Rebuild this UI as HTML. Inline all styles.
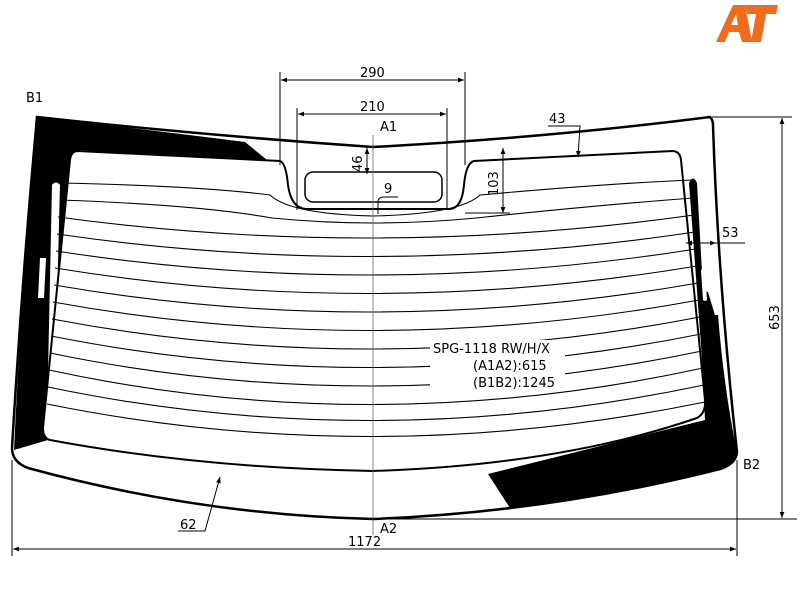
<!DOCTYPE html>
<html><head><meta charset="utf-8"><style>
html,body{margin:0;padding:0;background:#fff;}
svg{display:block;font-family:"DejaVu Sans","Liberation Sans",sans-serif;}
</style></head><body>
<svg width="800" height="600" viewBox="0 0 800 600" xmlns="http://www.w3.org/2000/svg">
<defs>
<marker id="ar" viewBox="0 0 10 10" refX="10" refY="5" markerWidth="8" markerHeight="6" orient="auto-start-reverse"><path d="M0,1 L10,5 L0,9 z" fill="#000"/></marker>
</defs>
<rect width="800" height="600" fill="#fff"/>
<path d="M37,117 Q200,135 373,147 Q545,138 710,117 Q713,120 713,125 Q718,280 737,452 Q736,464 720,469 Q550,512 373,519 Q200,515 28,468 Q12,462 12,448 Q22,280 37,117 Z" fill="#fff" stroke="#000" stroke-width="2.5"/>
<path d="M37,117 Q150,130 245,142 L272,164 L80,150 L48,440 L14,450 Q22,280 37,117 Z" fill="#000"/>
<path d="M718,315 Q724,390 737,452 Q736,464 720,469 Q620,496 510,508 L488,474 L705,420 L700,315 Z" fill="#000"/>
<path d="M52,185 Q56,180 60,185 L54,420 Q50,424 47,420 Z" fill="#fff"/>
<path d="M40,258 L46,258 L44,298 L38,298 Z" fill="#fff"/>
<path d="M78,151 L280,161 Q286,163 288,185 Q291,208 306,209 L450,209 Q462,208 464,185 Q466,163 474,161 L672,151 Q680,151 681,160 L705,400 Q706,413 697,418 Q560,465 373,471 Q200,468 50,440 Q43,438 43,428 L70,160 Q71,151 78,151 Z" fill="#fff" stroke="#000" stroke-width="2"/>
<rect x="305" y="172" width="137" height="30" rx="8" fill="#fff" stroke="#000" stroke-width="1.5"/>
<g fill="none" stroke="#000" stroke-width="1.1">
<path d="M60,183 Q200,186 270,195 Q290,214 373,216 Q460,214 480,195 Q600,184 692,180"/>
<path d="M60,200 Q200,205 272,218 Q373,228 476,218 Q600,205 693,198"/>
<path d="M58,217 Q373,260 694,215"/>
<path d="M57,234 Q373,280 695,232"/>
<path d="M56,251 Q373,300 696,249"/>
<path d="M55,268 Q373,320 697,266"/>
<path d="M54,285 Q373,340 698,283"/>
<path d="M53,302 Q373,360 699,300"/>
<path d="M52,319 Q373,380 700,317"/>
<path d="M51,336 Q373,400 701,334"/>
<path d="M50,353 Q373,420 702,351"/>
<path d="M49,370 Q373,440 703,368"/>
<path d="M48,387 Q373,455 704,385"/>
<path d="M47,404 Q373,470 705,402"/>
</g>
<!-- right strip -->
<path d="M689,183 Q693,174 697,183 L703,290 L708,292 L714,312 L719,330 L721,400 L706,412 Z" fill="#000"/>
<path d="M701,270 Q703,268 705,270 L707,300 Q705,302 703,300 Z" fill="#fff"/>
<rect x="430" y="340" width="135" height="48" fill="#fff"/>
<text x="433" y="353" font-size="13">SPG-1118 RW/H/X</text>
<text x="473" y="370" font-size="13">(A1A2):615</text>
<text x="473" y="387" font-size="13">(B1B2):1245</text>
<g stroke="#000" stroke-width="1" fill="none">
<line x1="280" y1="72" x2="280" y2="165"/><line x1="465" y1="72" x2="465" y2="165"/>
<line x1="281" y1="80" x2="464" y2="80" marker-start="url(#ar)" marker-end="url(#ar)"/>
<line x1="297" y1="108" x2="297" y2="210"/><line x1="447" y1="108" x2="447" y2="210"/>
<line x1="298" y1="114" x2="446" y2="114" marker-start="url(#ar)" marker-end="url(#ar)"/>
<line x1="373" y1="135" x2="373" y2="535" stroke="#666" stroke-width="0.8"/>
<line x1="367" y1="148" x2="367" y2="174" marker-start="url(#ar)" marker-end="url(#ar)"/>
<line x1="503" y1="148" x2="503" y2="213" marker-start="url(#ar)" marker-end="url(#ar)"/>
<line x1="465" y1="213" x2="510" y2="213"/>
<path d="M378,214 L378,202 Q378,197 384,197 L398,197"/>
<path d="M548,126 L580,126 L578,157" marker-end="url(#ar)"/>
<line x1="686" y1="243" x2="716" y2="243" marker-start="url(#ar)" marker-end="url(#ar)"/>
<line x1="716" y1="243" x2="745" y2="243"/>
<line x1="712" y1="117" x2="792" y2="117"/>
<line x1="373" y1="519" x2="797" y2="519"/>
<line x1="782" y1="118" x2="782" y2="518" marker-start="url(#ar)" marker-end="url(#ar)"/>
<line x1="737" y1="460" x2="737" y2="556"/>
<line x1="12" y1="460" x2="12" y2="556"/>
<line x1="13" y1="549" x2="736" y2="549" marker-start="url(#ar)" marker-end="url(#ar)"/>
<path d="M178,531 L205,531 L220,477" marker-end="url(#ar)"/>
</g>
<g font-size="13" fill="#000">
<text x="360" y="77">290</text>
<text x="360" y="111">210</text>
<text x="380" y="131">A1</text>
<text x="384" y="193">9</text>
<text x="549" y="123">43</text>
<text x="722" y="237">53</text>
<text x="26" y="102">B1</text>
<text x="743" y="469">B2</text>
<text x="380" y="533">A2</text>
<text x="180" y="529">62</text>
<text x="348" y="546">1172</text>
<text transform="translate(362,172) rotate(-90)">46</text>
<text transform="translate(498,196) rotate(-90)">103</text>
<text transform="translate(779,330) rotate(-90)">653</text>
</g>
<g>
<path d="M716,42 L733,5 L745,5 L752,42 L742,42 L739,32 L729,32 L725,42 Z M731,25 L738,25 L736,14 Z" fill="#f26a1b"/>
<path d="M745,5 L778,5 L776,14 L766,14 L761,42 L751,42 L756,14 L747,14 Z" fill="#f26a1b"/>
</g>
</svg>
</body></html>
